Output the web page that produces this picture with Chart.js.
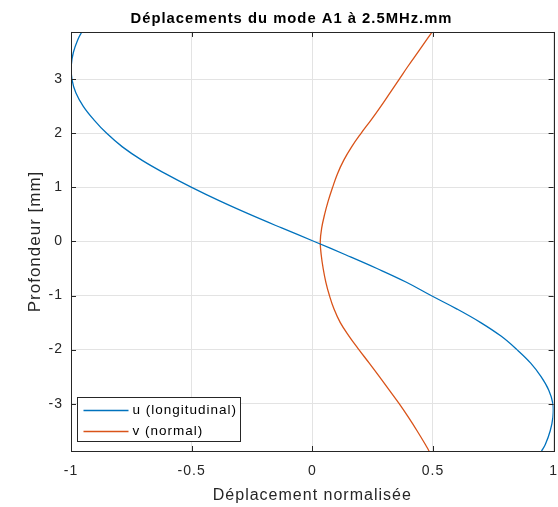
<!DOCTYPE html>
<html lang="fr">
<head>
<meta charset="utf-8">
<title>Déplacements du mode A1</title>
<script src="https://cdn.jsdelivr.net/npm/chart.js@4/dist/chart.umd.min.js"></script>
<style>
    html, body { margin: 0; padding: 0; background: #fff; }
    canvas { display: block; }
</style>
</head>
<body>
<canvas id="graphe" width="558" height="507"></canvas>
<script>
// Profondeur dans la plaque [mm] (axe vertical)
const profondeur = [3.875, 3.75, 3.5, 3.25, 3.0, 2.75, 2.5, 2.25, 2.0, 1.75, 1.5, 1.25, 1.0, 0.75, 0.5, 0.25, 0,
    -0.25, -0.5, -0.75, -1.0, -1.25, -1.5, -1.75, -2.0, -2.25, -2.5, -2.75, -3.0, -3.25, -3.5, -3.75, -3.875];

// Déplacement u (longitudinal), normalisé
const uLongitudinal = [-0.955, -0.970, -0.990, -0.999, -0.996, -0.980, -0.949, -0.905, -0.852, -0.787, -0.705, -0.607, -0.500, -0.384, -0.259, -0.127, 0.008,
    0.140, 0.268, 0.388, 0.492, 0.600, 0.698, 0.782, 0.848, 0.905, 0.948, 0.980, 0.997, 0.997, 0.986, 0.966, 0.950];

// Déplacement v (normal), normalisé
const vNormal = [0.497, 0.477, 0.438, 0.398, 0.360, 0.322, 0.284, 0.244, 0.202, 0.163, 0.130, 0.104, 0.084, 0.066, 0.051, 0.039, 0.033,
    0.037, 0.045, 0.056, 0.071, 0.090, 0.116, 0.152, 0.193, 0.236, 0.278, 0.319, 0.360, 0.398, 0.434, 0.468, 0.484];

const ticksX = [-1, -0.5, 0, 0.5, 1];
const labelsX = ['-1', '-0.5', '0', '0.5', '1'];
const ticksY = [-3, -2, -1, 0, 1, 2, 3];
const labelsY = ['-3', '-2', '-1', '0', '1', '2', '3'];

const couleurAxe = '#262626';
const police = "'Liberation Sans', Arial, Helvetica, sans-serif";

// MATLAB espace un peu plus les lettres
const espacement = {
    id: 'espacement',
    beforeUpdate(chart) { chart.ctx.letterSpacing = '1px'; },
    beforeDraw(chart) { chart.ctx.letterSpacing = '1px'; }
};

// Cadre complet + petites graduations vers l'intérieur
const cadre = {
    id: 'cadre',
    afterDatasetsDraw(chart) {
        const { ctx, chartArea: a, scales } = chart;
        const lg = 5;
        ctx.save();
        ctx.strokeStyle = couleurAxe;
        ctx.lineWidth = 1;
        ctx.beginPath();
        ticksX.forEach(v => {
            const px = Math.round(scales.x.getPixelForValue(v)) + 0.5;
            ctx.moveTo(px, a.bottom); ctx.lineTo(px, a.bottom - lg);
            ctx.moveTo(px, a.top); ctx.lineTo(px, a.top + lg);
        });
        ticksY.forEach(v => {
            const py = Math.round(scales.y.getPixelForValue(v)) + 0.5;
            ctx.moveTo(a.left, py); ctx.lineTo(a.left + lg, py);
            ctx.moveTo(a.right, py); ctx.lineTo(a.right - lg, py);
        });
        ctx.stroke();
        ctx.strokeRect(Math.round(a.left) + 0.5, Math.round(a.top) + 0.5,
            Math.round(a.right - a.left), Math.round(a.bottom - a.top));
        ctx.restore();
    }
};

// Légende en bas à gauche, dans la zone du graphe
const legendeMatlab = {
    id: 'legendeMatlab',
    afterDraw(chart) {
        const { ctx, chartArea: a } = chart;
        const x0 = Math.round(a.left) + 6.5;
        const y0 = Math.round(a.bottom) - 53.5;
        const w = 163, h = 44;
        ctx.save();
        ctx.letterSpacing = '1px';
        ctx.fillStyle = '#fff';
        ctx.fillRect(x0, y0, w, h);
        ctx.strokeStyle = couleurAxe;
        ctx.lineWidth = 1;
        ctx.strokeRect(x0, y0, w, h);
        ctx.font = '13.5px ' + police;
        ctx.textBaseline = 'middle';
        ctx.textAlign = 'left';
        chart.data.datasets.forEach((ds, i) => {
            const yy = y0 + 13 + i * 21;
            ctx.strokeStyle = ds.borderColor;
            ctx.lineWidth = 1.3;
            ctx.beginPath();
            ctx.moveTo(x0 + 6, yy);
            ctx.lineTo(x0 + 51, yy);
            ctx.stroke();
            ctx.fillStyle = '#000';
            ctx.fillText(ds.label, x0 + 55, yy);
        });
        ctx.restore();
    }
};

const ctx = document.getElementById('graphe').getContext('2d');

new Chart(ctx, {
    type: 'line',
    data: {
        datasets: [{
            label: 'u (longitudinal)',
            data: profondeur.map((p, i) => ({ x: uLongitudinal[i], y: p })),
            borderColor: '#0072BD',
            borderWidth: 1.3,
            pointRadius: 0,
            tension: 0.4,
            fill: false
        }, {
            label: 'v (normal)',
            data: profondeur.map((p, i) => ({ x: vNormal[i], y: p })),
            borderColor: '#D95319',
            borderWidth: 1.3,
            pointRadius: 0,
            tension: 0.4,
            fill: false
        }]
    },
    options: {
        indexAxis: 'y',
        responsive: false,
        animation: false,
        events: [],
        layout: { padding: { left: 25, right: 0, top: 0, bottom: 0 } },
        plugins: {
            legend: { display: false },
            tooltip: { enabled: false },
            title: {
                display: true,
                text: 'Déplacements du mode A1 à 2.5MHz.mm',
                color: '#000',
                font: { family: police, size: 14.8, weight: 'bold' },
                padding: { top: 10, bottom: 4.2 }
            }
        },
        scales: {
            x: {
                type: 'linear',
                position: 'bottom',
                min: -1,
                max: 1,
                afterBuildTicks: s => { s.ticks = ticksX.map(v => ({ value: v })); },
                afterFit: s => { s.height = 56; },
                ticks: {
                    callback: v => labelsX[ticksX.indexOf(v)],
                    color: couleurAxe,
                    font: { family: police, size: 14 },
                    padding: 0,
                    maxRotation: 0,
                    autoSkip: false
                },
                grid: { color: '#e3e3e3', drawTicks: true, tickLength: 12, tickColor: 'rgba(0,0,0,0)' },
                border: { display: false },
                title: {
                    display: true,
                    text: 'Déplacement normalisée',
                    color: couleurAxe,
                    font: { family: police, size: 16 },
                    padding: { top: 0, bottom: 2 }
                }
            },
            y: {
                type: 'linear',
                position: 'left',
                min: -3.875,
                max: 3.875,
                afterBuildTicks: s => { s.ticks = ticksY.map(v => ({ value: v })); },
                afterFit: s => { s.width = 46; },
                ticks: {
                    callback: v => labelsY[ticksY.indexOf(v)],
                    color: couleurAxe,
                    font: { family: police, size: 14 },
                    padding: 8,
                    autoSkip: false
                },
                grid: { color: '#e3e3e3', drawTicks: false },
                border: { display: false },
                title: {
                    display: true,
                    text: 'Profondeur [mm]',
                    color: couleurAxe,
                    font: { family: police, size: 17 },
                    padding: { top: 0, bottom: 0 }
                }
            }
        }
    },
    plugins: [espacement, cadre, legendeMatlab]
});
</script>
</body>
</html>
